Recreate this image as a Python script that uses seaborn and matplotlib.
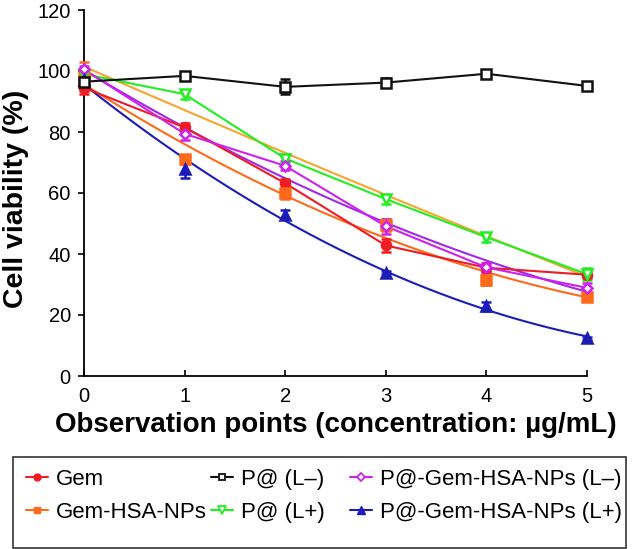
import matplotlib
matplotlib.use("Agg")
import matplotlib.pyplot as plt
from matplotlib.lines import Line2D
from matplotlib.patches import Rectangle
import seaborn as sns
import numpy as np

# ---- data ----
conc = [0, 1, 2, 3, 4, 5]
gem = [94.5, 81.5, 63.2, 42.8, 35.5, 33.2]
gem_err = [2.0, 1.5, 1.5, 2.0, 1.5, 1.0]
gem_hsa = [98.0, 71.0, 60.0, 49.5, 31.5, 26.0]
gem_hsa_err = [5.0, 1.5, 2.0, 2.0, 1.5, 1.5]
p_lminus = [96.5, 98.4, 94.8, 96.2, 99.1, 95.1]
p_lminus_err = [1.5, 1.0, 2.5, 1.5, 1.0, 1.0]
p_lplus = [99.0, 92.4, 71.3, 58.0, 45.5, 33.4]
p_lplus_err = [1.0, 1.5, 1.5, 1.5, 1.5, 2.0]
pg_lminus = [100.5, 79.4, 68.9, 49.1, 35.6, 28.9]
pg_lminus_err = [1.0, 2.0, 1.5, 2.5, 1.5, 1.5]
pg_lplus = [97.0, 68.0, 52.9, 33.8, 22.8, 12.3]
pg_lplus_err = [1.0, 3.0, 1.5, 0.5, 1.5, 0.5]

labels = ["Gem", "Gem-HSA-NPs", "P@ (L\u2013)", "P@ (L+)",
          "P@-Gem-HSA-NPs (L\u2013)", "P@-Gem-HSA-NPs (L+)"]
y_ticks = [0, 20, 40, 60, 80, 100, 120]
x_ticks = [0, 1, 2, 3, 4, 5]

RED = "#EE1C25"
ORANGE = "#FF6A1A"
GOLD = "#F5A530"
GREEN = "#22EE22"
MAGENTA = "#CC22EE"
PURPLE = "#A428E8"
BLUE = "#1C1CB8"
BLACK = "#111111"

sns.set_theme(style="ticks")
plt.rcParams["font.family"] = ["Liberation Sans", "DejaVu Sans"]

fig = plt.figure(figsize=(6.36, 5.49), dpi=100)
W, H = 636, 549
ax = fig.add_axes([84 / W, 1 - 376 / H, 503 / W, 366 / H])

# trend lines (quadratic fits)
trend = [(p_lplus, GOLD), (gem_hsa, ORANGE), (pg_lminus, PURPLE), (pg_lplus, BLUE)]
for vals, col in trend:
    sns.regplot(x=np.array(conc, float), y=np.array(vals, float), order=2, ci=None,
                scatter=False, ax=ax, line_kws=dict(color=col, lw=1.5, zorder=2))

# data lines
for vals, col in [(gem, RED), (p_lplus, GREEN), (pg_lminus, MAGENTA), (p_lminus, BLACK)]:
    sns.lineplot(x=conc, y=vals, color=col, lw=1.5, ax=ax, zorder=3)

# markers + error bars
mk = [
    (gem, gem_err, RED, "o", True),
    (gem_hsa, gem_hsa_err, ORANGE, "s", True),
    (p_lplus, p_lplus_err, GREEN, "v", False),
    (pg_lminus, pg_lminus_err, MAGENTA, "D", False),
    (pg_lplus, pg_lplus_err, BLUE, "^", True),
    (p_lminus, p_lminus_err, BLACK, "s", False),
]
for vals, err, col, m, filled in mk:
    ax.errorbar(conc, vals, yerr=err, fmt=m, ls="none", color=col,
                mfc=col if filled else "white", mec=col, mew=1.8,
                ms=6.5 if m != "D" else 5.5, capsize=3.5, capthick=1.8,
                elinewidth=1.8, zorder=4, clip_on=False)

ax.set_xlim(0, 5)
ax.set_ylim(0, 120)
ax.set_xticks(x_ticks)
ax.set_yticks(y_ticks)
ax.tick_params(axis="y", direction="out", length=4.5, width=1.2, labelsize=14.5, pad=5, colors="black")
ax.tick_params(axis="x", direction="in", length=4.5, width=1.2, labelsize=14.5, pad=8, colors="black")
for s in ["top", "right"]:
    ax.spines[s].set_visible(False)
for s in ["left", "bottom"]:
    ax.spines[s].set_linewidth(1.3)
    ax.spines[s].set_color("black")

ax.set_xlabel("Observation points (concentration: \u00b5g/mL)", fontsize=20, fontweight="bold", color="black")
ax.set_ylabel("Cell viability (%)", fontsize=20.5, fontweight="bold", color="black")
ax.xaxis.set_label_coords(0.5, -0.098)
ax.xaxis.label.set_va("top")
ax.yaxis.set_label_coords(-0.110, 0.485)

# legend box
fig.add_artist(Rectangle((13 / W, 1 - 548 / H), 613 / W, 91 / H, transform=fig.transFigure,
                         fill=False, edgecolor="#333333", lw=1.2))

handles = [
    Line2D([], [], color=RED, marker="o", mfc=RED, mec=RED, ms=5, lw=1.5),
    Line2D([], [], color=ORANGE, marker="s", mfc=ORANGE, mec=ORANGE, ms=5, lw=1.5),
    Line2D([], [], color=BLACK, marker="s", mfc="white", mec=BLACK, ms=5, mew=1.3, lw=1.5),
    Line2D([], [], color=GREEN, marker="v", mfc="white", mec=GREEN, ms=5.5, mew=1.3, lw=1.5),
    Line2D([], [], color=MAGENTA, marker="D", mfc="white", mec=MAGENTA, ms=4.5, mew=1.3, lw=1.5),
    Line2D([], [], color=BLUE, marker="^", mfc=BLUE, mec=BLUE, ms=5.5, lw=1.5),
]
col_x = [26, 211, 350]
for i, cx in enumerate(col_x):
    fig.legend(handles[2 * i:2 * i + 2], labels[2 * i:2 * i + 2], loc="upper left",
               bbox_to_anchor=(cx / W, 1 - 469 / H), bbox_transform=fig.transFigure,
               frameon=False, fontsize=16, handlelength=1.0, handletextpad=0.33,
               borderpad=0, borderaxespad=0, labelspacing=0.55, labelcolor="black")

fig.savefig("out.png", dpi=100)
